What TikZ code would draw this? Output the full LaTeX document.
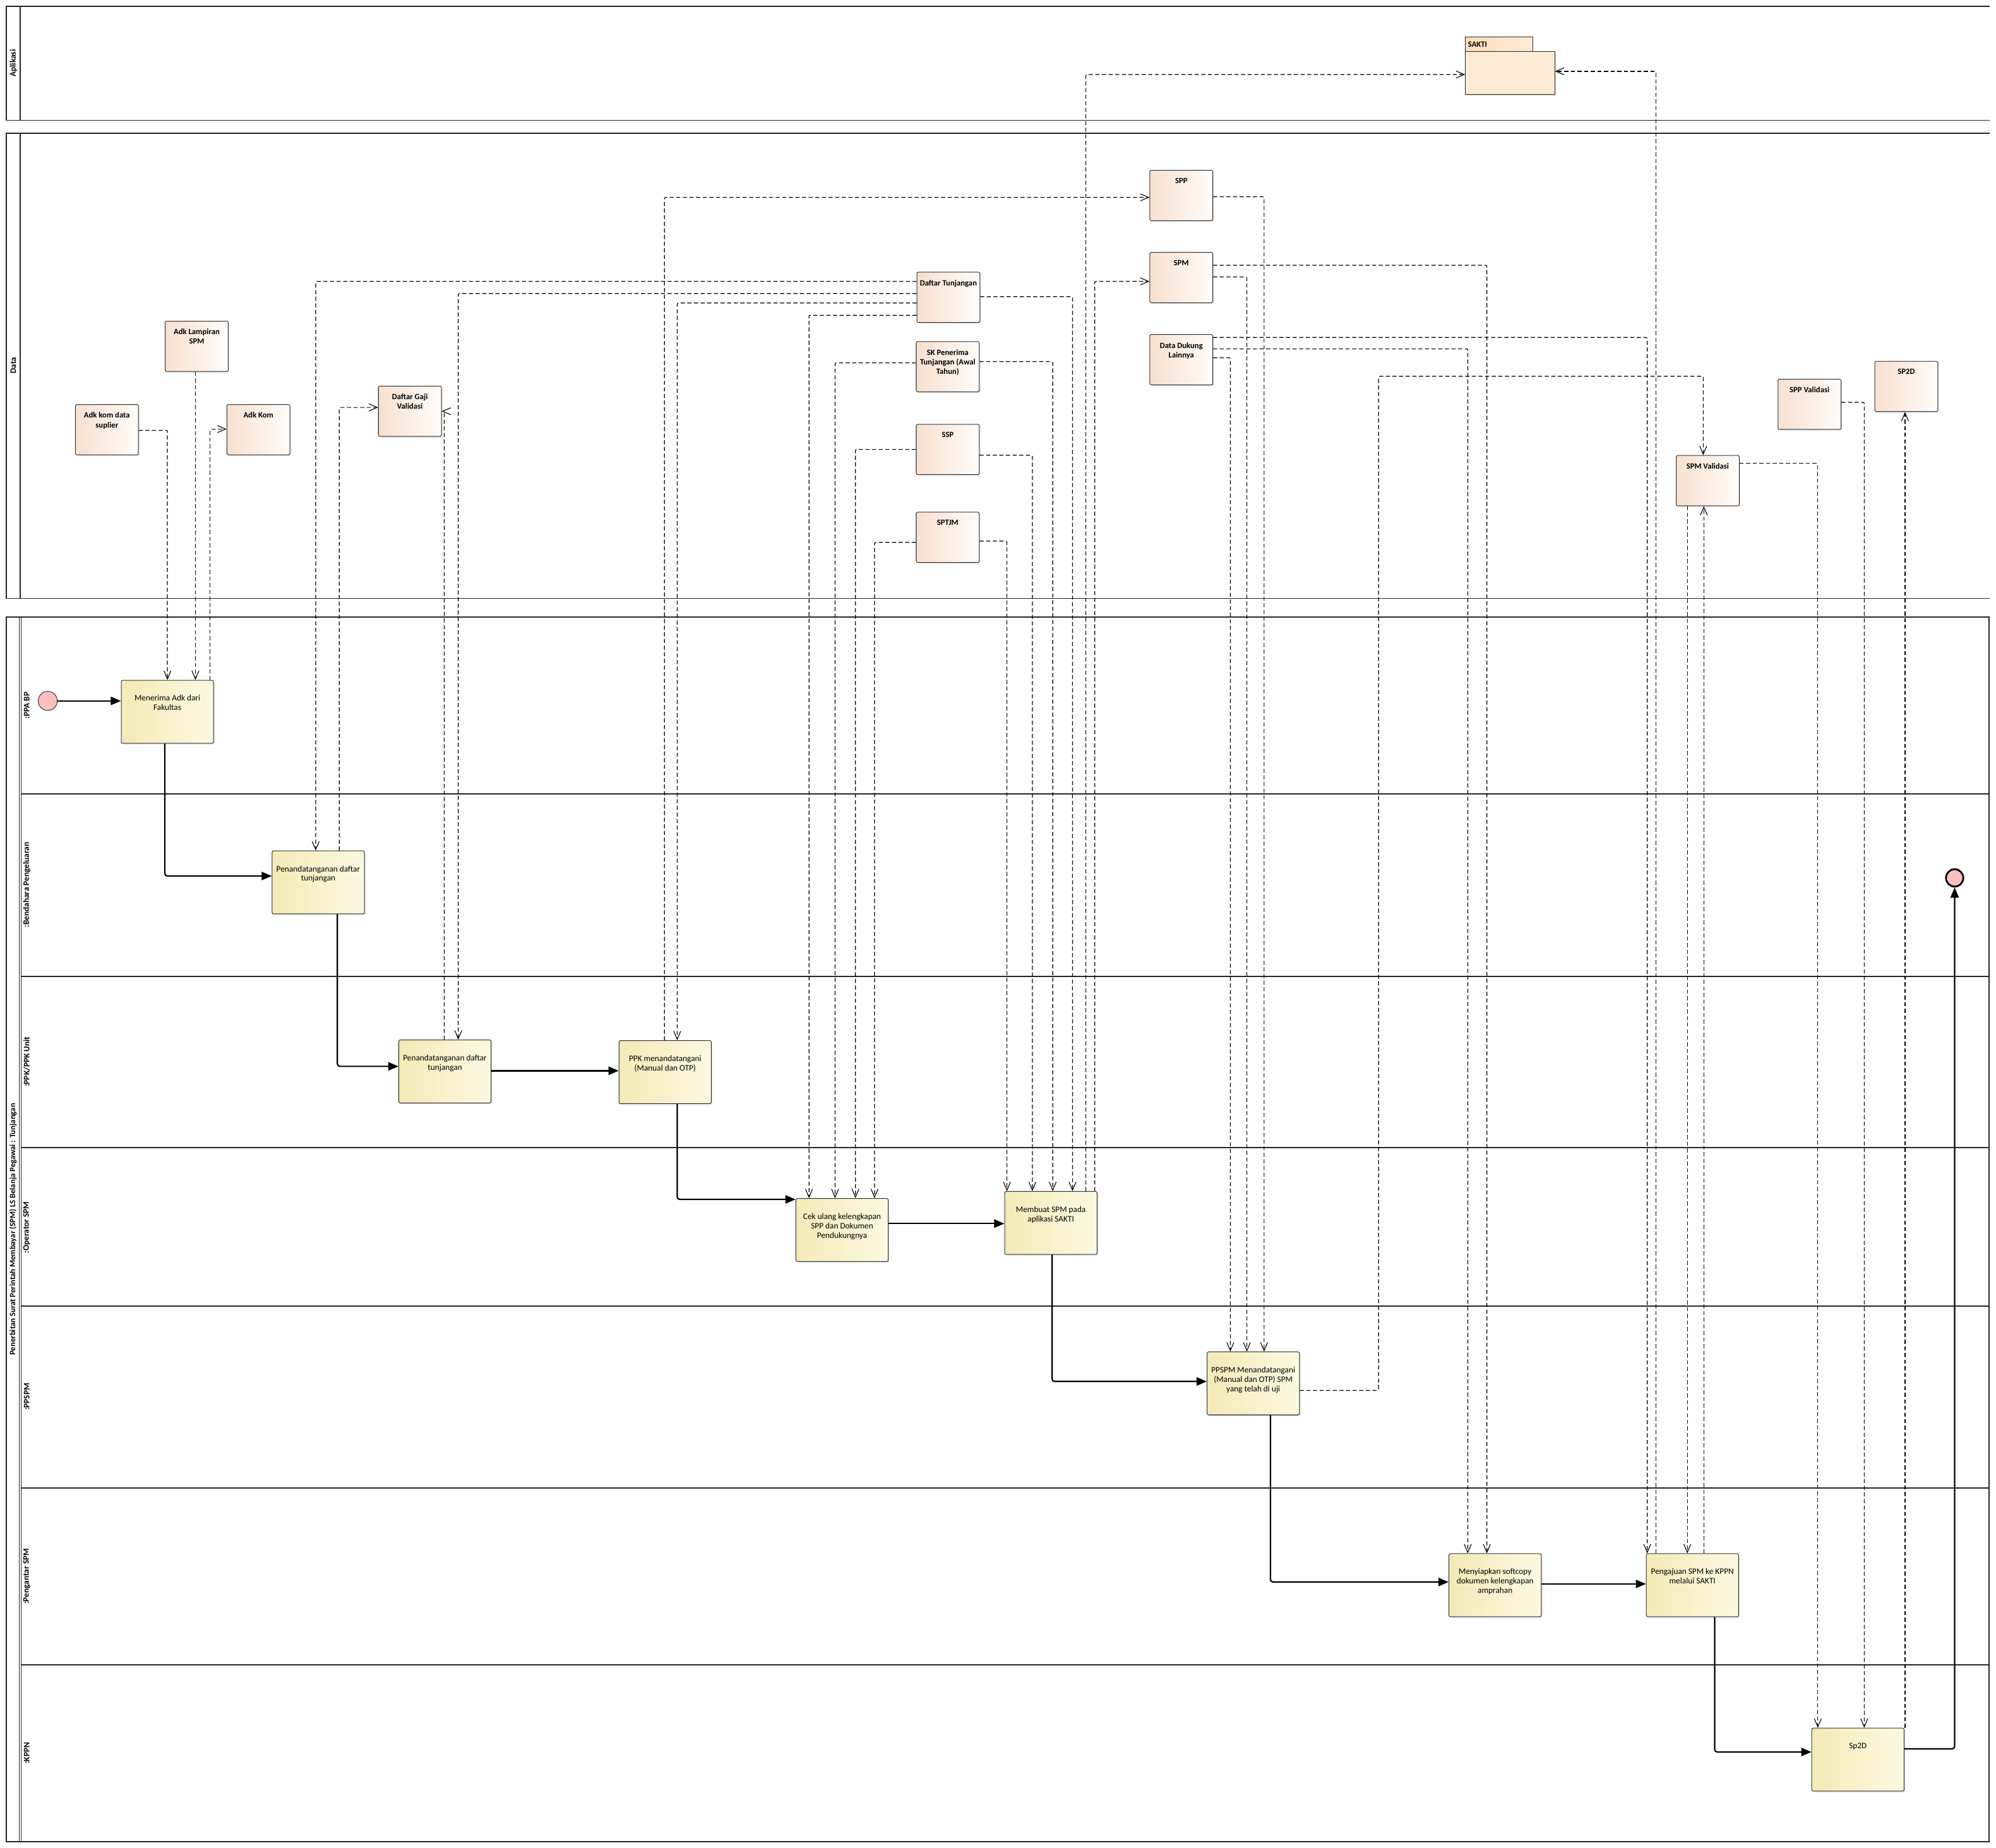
\documentclass[tikz,border=0pt]{standalone}
\usepackage{fontspec}
\setmainfont{Carlito}
\usetikzlibrary{arrows.meta,shadows}

\definecolor{actL}{RGB}{243,234,182}
\definecolor{actR}{RGB}{252,249,226}
\definecolor{dataL}{RGB}{247,224,207}
\definecolor{dataR}{RGB}{255,252,250}
\definecolor{pkgfill}{RGB}{254,235,214}
\definecolor{pkgtab}{RGB}{253,220,186}
\definecolor{initfill}{RGB}{250,192,192}

\begin{document}
\begin{tikzpicture}[x=1pt, y=-1pt,
  pool/.style={draw=black!85, line width=0.9pt},
  poollabel/.style={rotate=90, inner sep=0pt, font=\fontsize{6.6}{7.4}\selectfont\bfseries},
  dataobj/.style={draw=black!80, line width=0.5pt, rounded corners=1.2pt, left color=dataL, right color=dataR,
    minimum width=49.5pt, minimum height=39.5pt, inner sep=0pt, anchor=north west,
    drop shadow={shadow xshift=0.9pt, shadow yshift=-0.9pt, opacity=0.25}},
  dtext/.style={anchor=north, yshift=-6.2pt, inner sep=0pt, align=center, font=\fontsize{6.3}{7.5}\selectfont\bfseries},
  act/.style={draw=black!80, line width=0.5pt, rounded corners=1.2pt, left color=actL, right color=actR,
    minimum width=72.5pt, minimum height=49.5pt, inner sep=0pt, anchor=north west,
    drop shadow={shadow xshift=0.9pt, shadow yshift=-0.9pt, opacity=0.25}},
  atext/.style={anchor=north, yshift=-11.8pt, inner sep=0pt, align=center, font=\fontsize{6.6}{7.35}\selectfont},
  dep/.style={draw=black, line width=0.6pt, dash pattern=on 3.2pt off 2pt, rounded corners=1pt,
    -{Straight Barb[length=6.5pt, width=5.5pt, line width=0.55pt]}},
  ctrl/.style={draw=black, line width=1.1pt, rounded corners=2pt, -{Triangle[length=8pt, width=6.5pt]}}
]
\fill[white] (0,0) rectangle (1568,1451.4);
\useasboundingbox (0,0) rectangle (1568,1451.4);

% pools and lanes
\draw[pool] (1563,5) -- (5,5) -- (5,94.5) -- (1563,94.5);
\draw[pool] (16,5) -- (16,94.5);
\draw[pool] (1563,104.5) -- (5,104.5) -- (5,470) -- (1563,470);
\draw[pool] (16,104.5) -- (16,470);
\draw[pool] (5,484.5) rectangle (1562.5,1446.5);
\draw[pool, line width=0.6pt] (15.2,484.5) -- (15.2,1446.5);
\draw[pool, line width=0.6pt] (16.6,484.5) -- (16.6,1446.5);
\foreach \y in {623.5,767,901.5,1026,1168.5,1307.5}
  \draw[pool] (16.6,\y) -- (1562.5,\y);

\node (lblapp) [poollabel] at (10.5,49.7) {Aplikasi};
\node (lbldata) [poollabel] at (10.5,287) {Data};
\node (lblpool) [poollabel, font=\fontsize{6.3}{7.4}\selectfont\bfseries] at (10.2,965.5)
  {Penerbitan Surat Perintah Membayar (SPM) LS Belanja Pegawai : Tunjangan};
\node (lblppa) [poollabel] at (21,554) {:PPA BP};
\node (lblbend) [poollabel] at (21,695) {:Bendahara Pengeluaran};
\node (lblppk) [poollabel] at (21,834) {:PPK/PPK Unit};
\node (lblops) [poollabel] at (21,964) {:Operator SPM};
\node (lblppspm) [poollabel] at (21,1097) {:PPSPM};
\node (lblantar) [poollabel] at (21,1238) {:Pengantar SPM};
\node (lblkppn) [poollabel] at (21,1377) {:KPPN};

% aplikasi
\node (saktitab) [draw=black!85, line width=0.5pt, left color=pkgtab, right color=pkgfill, anchor=north west,
  minimum height=11pt, text width=49pt, inner xsep=2pt, inner ysep=0pt, align=left,
  font=\fontsize{6.3}{7.5}\selectfont\bfseries] at (1151,29) {SAKTI};
\node (sakti) [draw=black!85, line width=0.5pt, fill=pkgfill, anchor=north west, minimum width=70pt,
  minimum height=34pt, inner sep=0pt, drop shadow={shadow xshift=0.9pt, shadow yshift=-0.9pt, opacity=0.25}] at (1151,40) {};

% data objects
\node (suplier) [dataobj, label={[dtext]north:{Adk kom data\\suplier}}] at (59,317.5) {};
\node (lampiran) [dataobj, label={[dtext]north:{Adk Lampiran\\SPM}}] at (129.5,252) {};
\node (adkkom) [dataobj, label={[dtext]north:{Adk Kom}}] at (178,317.5) {};
\node (gajival) [dataobj, label={[dtext]north:{Daftar Gaji\\Validasi}}] at (297,303) {};
\node (tunj) [dataobj, label={[dtext]north:{Daftar Tunjangan}}] at (720,213.5) {};
\node (sk) [dataobj, label={[dtext]north:{SK Penerima\\Tunjangan (Awal\\Tahun)}}] at (719.5,268) {};
\node (ssp) [dataobj, label={[dtext]north:{SSP}}] at (719.5,333) {};
\node (sptjm) [dataobj, label={[dtext]north:{SPTJM}}] at (719.5,402) {};
\node (spp) [dataobj, label={[dtext]north:{SPP}}] at (903,133.5) {};
\node (spm) [dataobj, label={[dtext]north:{SPM}}] at (903,198) {};
\node (ddl) [dataobj, label={[dtext]north:{Data Dukung\\Lainnya}}] at (903,262.5) {};
\node (spmval) [dataobj, label={[dtext]north:{SPM Validasi}}] at (1316.5,357.5) {};
\node (sppval) [dataobj, label={[dtext]north:{SPP Validasi}}] at (1396.5,297.5) {};
\node (sp2dobj) [dataobj, label={[dtext]north:{SP2D}}] at (1472.5,283.5) {};

% activities
\node (start) [circle, draw=black!80, line width=0.5pt, fill=initfill, minimum size=15pt, inner sep=0pt] at (37.5,550.5) {};
\node (menerima) [act, label={[atext]north:{Menerima Adk dari\\Fakultas}}] at (95,534) {};
\node (pdb) [act, label={[atext]north:{Penandatanganan daftar\\tunjangan}}] at (213.5,668) {};
\node (pdp) [act, label={[atext]north:{Penandatanganan daftar\\tunjangan}}] at (313,816.5) {};
\node (ppkttd) [act, label={[atext]north:{PPK menandatangani\\(Manual dan OTP)}}] at (486,817) {};
\node (cek) [act, label={[atext]north:{Cek ulang kelengkapan\\SPP dan Dokumen\\Pendukungnya}}] at (625,941) {};
\node (buat) [act, label={[atext]north:{Membuat SPM pada\\aplikasi SAKTI}}] at (789,935.5) {};
\node (ppspm) [act, label={[atext]north:{PPSPM Menandatangani\\(Manual dan OTP) SPM\\yang telah di uji}}] at (948,1061.5) {};
\node (siap) [act, label={[atext]north:{Menyiapkan softcopy\\dokumen kelengkapan\\amprahan}}] at (1138,1220) {};
\node (aju) [act, label={[atext]north:{Pengajuan SPM ke KPPN\\melalui SAKTI}}] at (1293,1220) {};
\node (sp2d) [act, label={[atext]north:{Sp2D}}] at (1423,1357) {};
\node (finish) [circle, draw=black, line width=1.4pt, fill=initfill, minimum size=13.6pt, inner sep=0pt] at (1535.5,689.5) {};

% control flow
\draw[ctrl] (start) -- (menerima.west |- start);
\draw[ctrl] (menerima.south -| 129.5,0) |- (pdb.west |- 0,688);
\draw[ctrl] (pdb.south -| 265,0) |- (pdp.west |- 0,837.5);
\draw[ctrl] (pdp.east |- 0,841) -- (ppkttd.west |- 0,841);
\draw[ctrl] (ppkttd.south -| 532,0) |- (cek.west |- 0,942);
\draw[ctrl] (cek.east |- 0,961) -- (buat.west |- 0,961);
\draw[ctrl] (buat.south -| 826.5,0) |- (ppspm.west |- 0,1085);
\draw[ctrl] (ppspm.south -| 998,0) |- (siap.west |- 0,1242.5);
\draw[ctrl] (siap.east |- 0,1244) -- (aju.west |- 0,1244);
\draw[ctrl] (aju.south -| 1347,0) |- (sp2d.west |- 0,1376);
\draw[ctrl] (sp2d.east |- 0,1373.5) -| (finish.south);

% data flow
\draw[dep] (suplier.east |- 0,338) -| (menerima.north -| 131.5,0);
\draw[dep] (lampiran.south -| 153.5,0) -- (menerima.north -| 153.5,0);
\draw[dep] (menerima.north -| 165,0) |- (adkkom.west |- 0,337);
\draw[dep] (tunj.west |- 0,221) -| (pdb.north -| 248,0);
\draw[dep] (pdb.north -| 266.5,0) |- (gajival.west |- 0,320);
\draw[dep] (tunj.west |- 0,230.5) -| (pdp.north -| 360,0);
\draw[dep] (pdp.north -| 349,0) |- (gajival.east |- 0,323);
\draw[dep] (ppkttd.north -| 522,0) |- (spp.west |- 0,155);
\draw[dep] (tunj.west |- 0,238) -| (ppkttd.north -| 532,0);
\draw[dep] (tunj.west |- 0,247.6) -| (cek.north -| 635.5,0);
\draw[dep] (sk.west |- 0,285) -| (cek.north -| 656,0);
\draw[dep] (ssp.west |- 0,353) -| (cek.north -| 672,0);
\draw[dep] (sptjm.west |- 0,426) -| (cek.north -| 687,0);
\draw[dep] (sptjm.east |- 0,425) -| (buat.north -| 791,0);
\draw[dep] (ssp.east |- 0,357.5) -| (buat.north -| 811,0);
\draw[dep] (sk.east |- 0,284) -| (buat.north -| 827,0);
\draw[dep] (tunj.east |- 0,233) -| (buat.north -| 842.5,0);
\draw[dep] (buat.north -| 853,0) |- (sakti.west |- 0,58.5);
\draw[dep] (buat.north -| 860,0) |- (spm.west |- 0,221);
\draw[dep] (spp.east |- 0,154.5) -| (ppspm.north -| 993,0);
\draw[dep] (spm.east |- 0,217.5) -| (ppspm.north -| 979.5,0);
\draw[dep] (ddl.east |- 0,281) -| (ppspm.north -| 966.5,0);
\draw[dep] (ppspm.east |- 0,1092) -| (1083,295.5) -| (spmval.north -| 1338,0);
\draw[dep] (spm.east |- 0,208.3) -| (siap.north -| 1168,0);
\draw[dep] (ddl.east |- 0,274) -| (siap.north -| 1153,0);
\draw[dep] (ddl.east |- 0,265) -| (aju.north -| 1294,0);
\draw[dep] (aju.north -| 1301,0) |- (sakti.east |- 0,56);
\draw[dep] (spmval.south -| 1325.5,0) -- (aju.north -| 1325.5,0);
\draw[dep] (aju.north -| 1338.5,0) -- (spmval.south -| 1338.5,0);
\draw[dep] (spmval.east |- 0,364) -| (sp2d.north -| 1428,0);
\draw[dep] (sppval.east |- 0,316) -| (sp2d.north -| 1464.5,0);
\draw[dep] (sp2d.north -| 1496.5,0) -- (sp2dobj.south -| 1496.5,0);
\end{tikzpicture}
\end{document}
